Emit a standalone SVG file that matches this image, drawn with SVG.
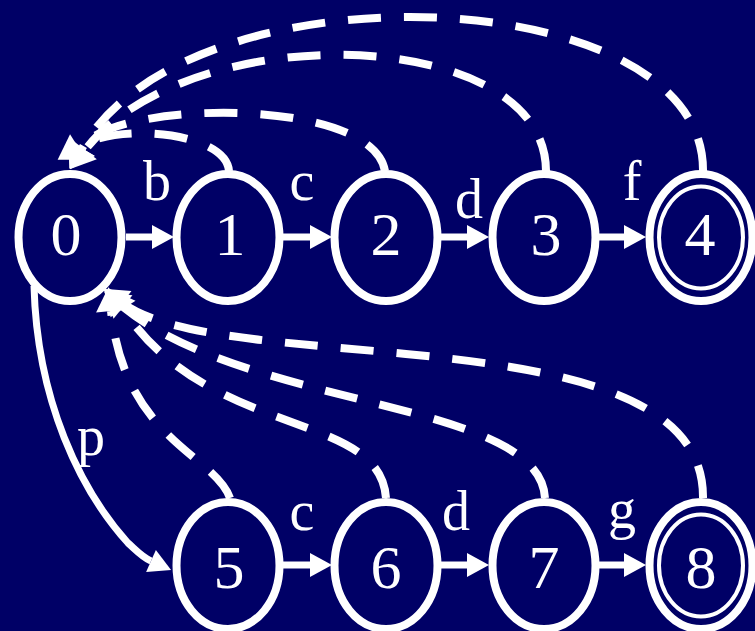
<svg xmlns="http://www.w3.org/2000/svg" width="755" height="631" viewBox="0 0 755 631">
<style>
.st{fill:none;stroke:#fff;stroke-width:8}
.in{fill:none;stroke:#fff;stroke-width:4}
.num{font-family:"Liberation Serif","Times New Roman",serif;font-size:62px;fill:#fff;text-anchor:middle}
.lbl{font-family:"Liberation Serif","Times New Roman",serif;font-size:56px;fill:#fff;text-anchor:middle}
.sol{fill:none;stroke:#fff;stroke-width:7}
.dsh{fill:none;stroke:#fff;stroke-width:8;stroke-dasharray:33 23}
</style>
<defs>
<marker id="ah" markerUnits="userSpaceOnUse" markerWidth="22" markerHeight="24" refX="0" refY="12" orient="auto" overflow="visible">
<path d="M0,0 L22,12 L0,24 z" fill="#fff"/>
</marker>
<marker id="ad" markerUnits="userSpaceOnUse" markerWidth="24" markerHeight="30" refX="0" refY="15" orient="auto" overflow="visible">
<path d="M0,0 L24,15 L0,30 z" fill="#fff"/>
</marker>
</defs>
<rect width="755" height="631" fill="#000066"/>
<g id="connectors">
<path class="sol" d="M126 237 H152" marker-end="url(#ah)"/>
<path class="sol" d="M283 237 H310" marker-end="url(#ah)"/>
<path class="sol" d="M441 237 H467" marker-end="url(#ah)"/>
<path class="sol" d="M599 237 H624" marker-end="url(#ah)"/>
<path class="sol" d="M283 565 H310" marker-end="url(#ah)"/>
<path class="sol" d="M441 565 H467" marker-end="url(#ah)"/>
<path class="sol" d="M599 565 H624" marker-end="url(#ah)"/>
<path class="sol" d="M34 286 C37 400 80 490 128 543 C136 550 142 557 151 561" marker-end="url(#ah)"/>
<path class="dsh" d="M229 171 C226 132 118 122 78 147" marker-end="url(#ad)"/>
<path class="dsh" d="M385 171 C372 95 110 100 81.5 148" marker-end="url(#ad)"/>
<path class="dsh" d="M546 171 C546 25 190 15 85 150" marker-end="url(#ad)"/>
<path class="dsh" d="M703 171 C705 -20 190 -40 82 148.5" marker-end="url(#ad)"/>
<path class="dsh" d="M230 498 C215 455 125 440 111 311" marker-end="url(#ad)"/>
<path class="dsh" d="M386 498 C380 410 210 440 123 309" marker-end="url(#ad)"/>
<path class="dsh" d="M545 498 C540 400 250 410 123 307" marker-end="url(#ad)"/>
<path class="dsh" d="M703 498 C705 310 226 380 122.5 303" marker-end="url(#ad)"/>
</g>
<g id="labels">
<text class="lbl" x="157" y="200">b</text>
<text class="lbl" x="302" y="200">c</text>
<text class="lbl" x="469" y="218">d</text>
<text class="lbl" x="632" y="200">f</text>
<text class="lbl" x="91" y="455">p</text>
<text class="lbl" x="302" y="530">c</text>
<text class="lbl" x="456" y="530">d</text>
<text class="lbl" x="622" y="528">g</text>
</g>
<g id="node0"><ellipse class="st" cx="70" cy="237.5" rx="51.5" ry="63.5"/><text class="num" x="66" y="255">0</text></g>
<g id="node1"><ellipse class="st" cx="228" cy="237.5" rx="51.5" ry="63.5"/><text class="num" x="230" y="255">1</text></g>
<g id="node2"><ellipse class="st" cx="386" cy="237.5" rx="51.5" ry="63.5"/><text class="num" x="386" y="255">2</text></g>
<g id="node3"><ellipse class="st" cx="544" cy="237.5" rx="51.5" ry="63.5"/><text class="num" x="546" y="255">3</text></g>
<g id="node4"><ellipse class="st" cx="701" cy="237.5" rx="51.5" ry="63.5"/><ellipse class="in" cx="701" cy="237.5" rx="42" ry="51"/><text class="num" x="700" y="255">4</text></g>
<g id="node5"><ellipse class="st" cx="228" cy="565.5" rx="51.5" ry="63.5"/><text class="num" x="229" y="588">5</text></g>
<g id="node6"><ellipse class="st" cx="386" cy="565.5" rx="51.5" ry="63.5"/><text class="num" x="386" y="588">6</text></g>
<g id="node7"><ellipse class="st" cx="544" cy="565.5" rx="51.5" ry="63.5"/><text class="num" x="544" y="588">7</text></g>
<g id="node8"><ellipse class="st" cx="701" cy="565.5" rx="51.5" ry="63.5"/><ellipse class="in" cx="701" cy="565.5" rx="42" ry="51"/><text class="num" x="701" y="588">8</text></g>
</svg>
